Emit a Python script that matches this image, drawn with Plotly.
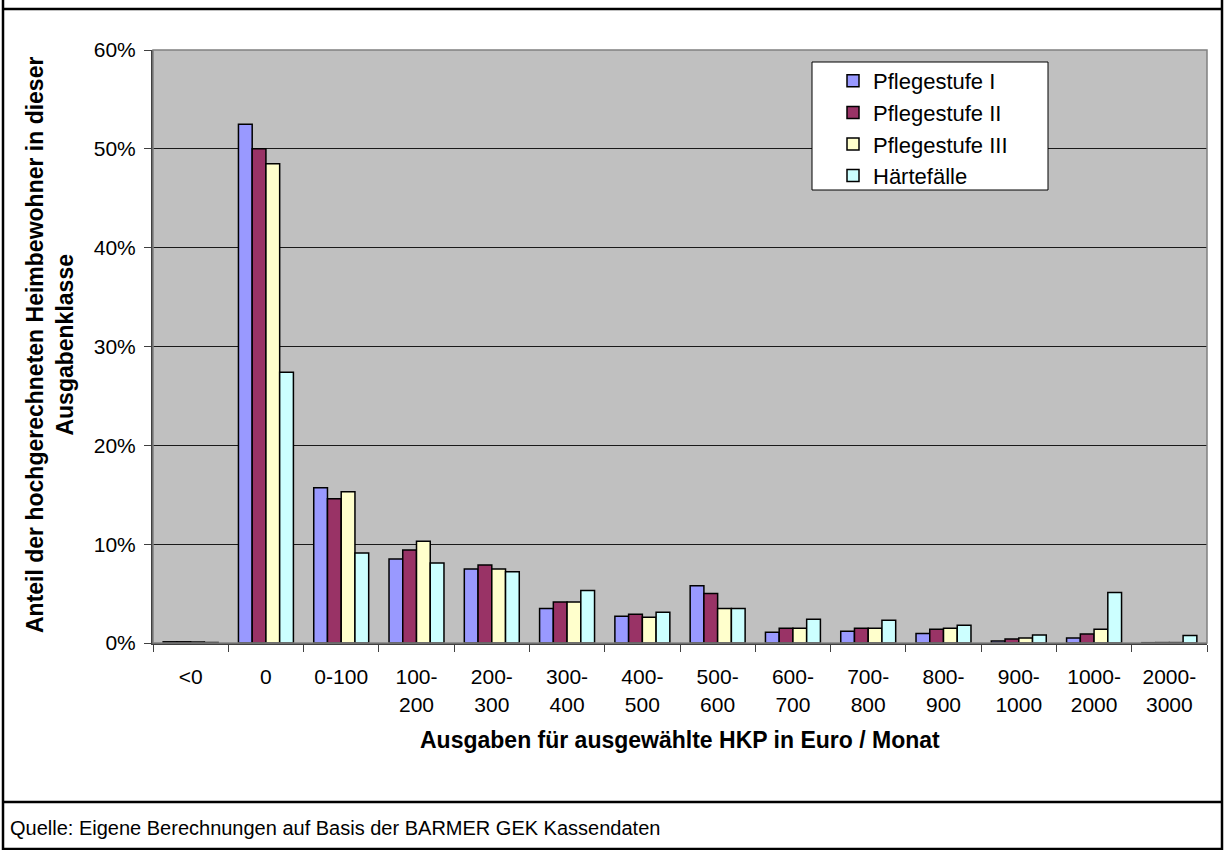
import plotly.graph_objects as go

# Ausgabenklassen (Euro / Monat)
categories = ["<0", "0", "0-100", "100-<br>200", "200-<br>300", "300-<br>400", "400-<br>500",
              "500-<br>600", "600-<br>700", "700-<br>800", "800-<br>900", "900-<br>1000",
              "1000-<br>2000", "2000-<br>3000"]

# Anteile in Prozent je Pflegestufe
stufe_1 = [0.12, 52.5, 15.7, 8.5, 7.5, 3.5, 2.7, 5.8, 1.1, 1.2, 0.95, 0.2, 0.5, 0.03]
stufe_2 = [0.12, 50.0, 14.6, 9.4, 7.9, 4.15, 2.9, 5.0, 1.5, 1.5, 1.4, 0.4, 0.9, 0.04]
stufe_3 = [0.10, 48.5, 15.3, 10.3, 7.5, 4.15, 2.6, 3.5, 1.5, 1.5, 1.5, 0.5, 1.4, 0.04]
haertefaelle = [0.05, 27.4, 9.1, 8.1, 7.2, 5.3, 3.1, 3.5, 2.4, 2.3, 1.8, 0.8, 5.1, 0.75]

series_names = ["Pflegestufe I", "Pflegestufe II", "Pflegestufe III", "Härtefälle"]
series_values = [stufe_1, stufe_2, stufe_3, haertefaelle]
series_colors = ["#9999FF", "#993366", "#FFFFCC", "#CCFFFF"]

y_ticks = [0, 10, 20, 30, 40, 50, 60]
y_ticklabels = [f"{v}%" for v in y_ticks]

# Seiten- und Plotgeometrie in Pixeln
W, H = 1224, 850
PL, PR, PT, PB = 153, 1207, 50, 643
FONT = "Liberation Sans, Arial, sans-serif"


def px_x(x):
    return (x - PL) / (PR - PL)


def px_y(y):
    return (PB - y) / (PB - PT)


fig = go.Figure()
for i, (name, vals, col) in enumerate(zip(series_names, series_values, series_colors)):
    fig.add_trace(go.Bar(
        x=categories, y=vals, name=name,
        marker=dict(color=col, line=dict(color="#000000", width=1.5)),
        legendgroup=f"g{i}",
    ))

fig.update_layout(
    width=W, height=H,
    margin=dict(l=PL, r=W - PR, t=PT, b=H - PB, autoexpand=False),
    paper_bgcolor="#FFFFFF",
    plot_bgcolor="#C0C0C0",
    barmode="group",
    bargap=0.27,
    bargroupgap=0.0,
    font=dict(family=FONT, size=21, color="#000000"),
    showlegend=True,
    legend=dict(
        x=px_x(833), y=px_y(60), xanchor="left", yanchor="top",
        bgcolor="rgba(0,0,0,0)", borderwidth=0,
        font=dict(family=FONT, size=22, color="#000000"),
        traceorder="grouped", tracegroupgap=0,
    ),
    xaxis=dict(
        type="category", categoryorder="array", categoryarray=categories,
        showgrid=False, zeroline=False,
        showline=True, linecolor="#404040", linewidth=2,
        ticks="outside", tickson="boundaries", ticklen=7, tickcolor="#404040", tickwidth=1,
        ticklabelstandoff=14,
        tickfont=dict(family=FONT, size=21, color="#000000"),
    ),
    yaxis=dict(
        range=[0, 60],
        tickvals=y_ticks, ticktext=y_ticklabels,
        showgrid=True, gridcolor="#1a1a1a", gridwidth=1,
        zeroline=False,
        showline=True, linecolor="#404040", linewidth=2,
        ticks="outside", ticklen=7, tickcolor="#404040", tickwidth=1,
        ticklabelstandoff=4,
        tickfont=dict(family=FONT, size=21, color="#000000"),
    ),
)

# Achsentitel
fig.add_annotation(
    xref="paper", yref="paper", x=px_x(50), y=px_y(345),
    text="<b>Anteil der hochgerechneten Heimbewohner in dieser<br>Ausgabenklasse</b>",
    textangle=-90, showarrow=False, xanchor="center", yanchor="middle",
    font=dict(family=FONT, size=23, color="#000000"),
)
fig.add_annotation(
    xref="paper", yref="paper", x=px_x(680), y=px_y(740),
    text="<b>Ausgaben für ausgewählte HKP in Euro / Monat</b>",
    showarrow=False, xanchor="center", yanchor="middle",
    font=dict(family=FONT, size=23, color="#000000"),
)
# Quellenangabe
fig.add_annotation(
    xref="paper", yref="paper", x=px_x(8), y=px_y(828),
    text="Quelle: Eigene Berechnungen auf Basis der BARMER GEK Kassendaten",
    showarrow=False, xanchor="left", yanchor="middle",
    font=dict(family=FONT, size=20, color="#000000"),
)

# Rahmen: Plotbereich, Legendenkasten, Abbildung
shapes = [
    dict(type="rect", xref="paper", yref="paper", x0=0, x1=1, y0=0, y1=1,
         line=dict(color="#808080", width=1.5), fillcolor="rgba(0,0,0,0)", layer="above"),
    dict(type="rect", xref="paper", yref="paper", x0=px_x(812), x1=px_x(1048), y0=px_y(190), y1=px_y(62),
         line=dict(color="#000000", width=1), fillcolor="#FFFFFF", layer="above"),
    dict(type="line", xref="paper", yref="paper", x0=px_x(3), x1=px_x(1222), y0=px_y(9), y1=px_y(9),
         line=dict(color="#000000", width=2.5)),
    dict(type="line", xref="paper", yref="paper", x0=px_x(3), x1=px_x(1222), y0=px_y(802), y1=px_y(802),
         line=dict(color="#000000", width=2.5)),
    dict(type="line", xref="paper", yref="paper", x0=px_x(3), x1=px_x(1222), y0=px_y(849), y1=px_y(849),
         line=dict(color="#000000", width=2.5)),
    dict(type="line", xref="paper", yref="paper", x0=px_x(3), x1=px_x(3), y0=px_y(0), y1=px_y(850),
         line=dict(color="#000000", width=2.5)),
    dict(type="line", xref="paper", yref="paper", x0=px_x(1222), x1=px_x(1222), y0=px_y(0), y1=px_y(850),
         line=dict(color="#000000", width=2.5)),
]
fig.update_layout(shapes=shapes)

fig.write_html("out.html")
